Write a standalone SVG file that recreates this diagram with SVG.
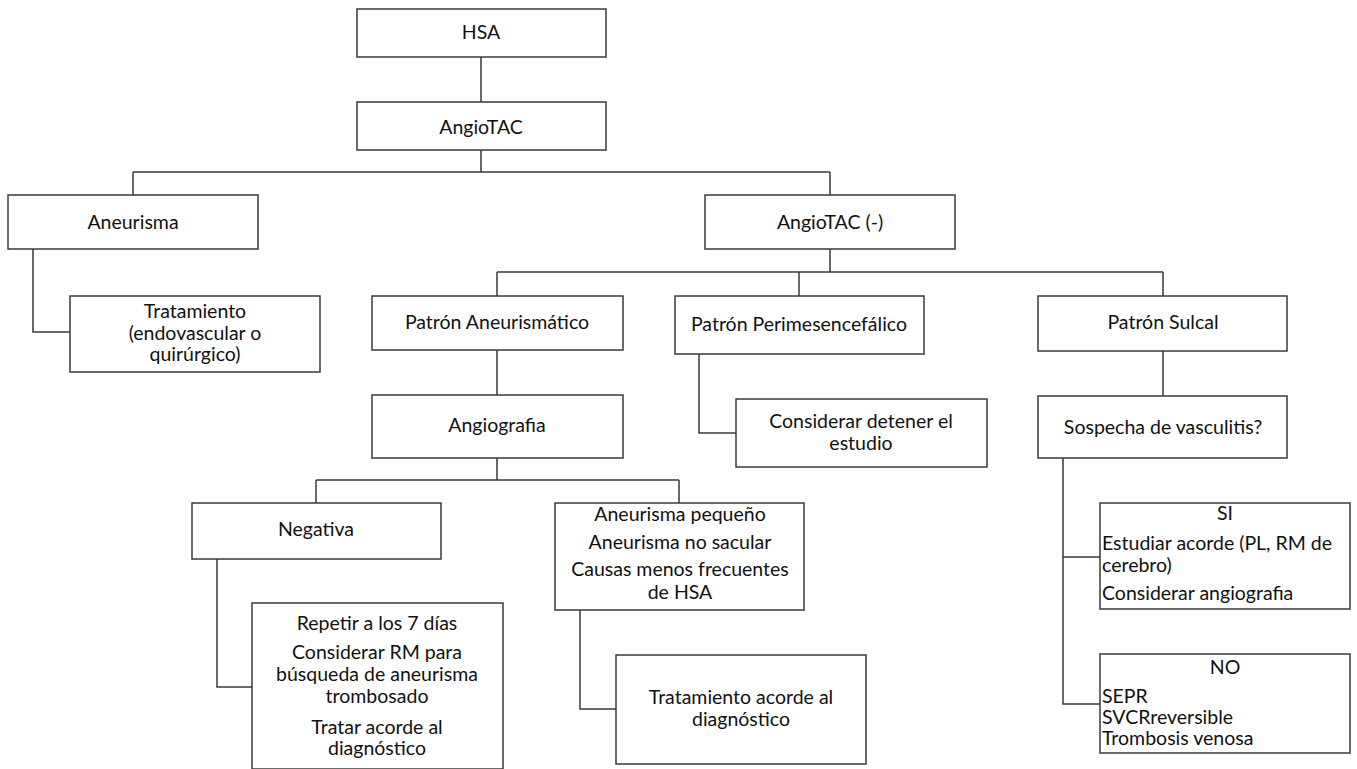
<svg xmlns="http://www.w3.org/2000/svg" width="1357" height="769" viewBox="0 0 1357 769">
<style>
rect{fill:#fff;stroke:#3a3a3a;stroke-width:1.5}
.c{fill:none;stroke:#3a3a3a;stroke-width:1.5}
text{font-family:Lato,"Liberation Sans",sans-serif;font-size:19.5px;fill:#111;text-anchor:middle}
.l{text-anchor:start}
</style>
<rect x="0" y="0" width="1357" height="769" style="stroke:none"/>
<g id="connectors">
<path class="c" d="M481 57V102M481 150V172M133 172H830M133 172V195M830 172V195"/>
<path class="c" d="M33 249V332H70"/>
<path class="c" d="M830 249V272M497 272H1163M497 272V296M799 272V296M1163 272V296"/>
<path class="c" d="M699 354V433H736"/>
<path class="c" d="M1163 351V396"/>
<path class="c" d="M497 350V395M497 458V480M316 480H679M316 480V503M679 480V503"/>
<path class="c" d="M217 559V687H252"/>
<path class="c" d="M580 610V709H616"/>
<path class="c" d="M1063 458V704H1100M1063 557H1100"/>
</g>
<g id="hsa"><rect x="357" y="9" width="249" height="48"/><text x="481" y="39">HSA</text></g>
<g id="angiotac"><rect x="357" y="102" width="249" height="48"/><text x="481" y="134">AngioTAC</text></g>
<g id="aneurisma"><rect x="8" y="195" width="250" height="54"/><text x="133" y="229">Aneurisma</text></g>
<g id="angiotac-neg"><rect x="705" y="195" width="250" height="54"/><text x="830" y="229">AngioTAC (-)</text></g>
<g id="tratamiento"><rect x="70" y="296" width="250" height="76"/><text x="195" y="318">Tratamiento</text><text x="195" y="339.5">(endovascular o</text><text x="195" y="361">quirúrgico)</text></g>
<g id="patron-aneurismatico"><rect x="372" y="296" width="251" height="54"/><text x="497" y="329">Patrón Aneurismático</text></g>
<g id="patron-perimesencefalico"><rect x="675" y="296" width="249" height="58"/><text x="799" y="331">Patrón Perimesencefálico</text></g>
<g id="patron-sulcal"><rect x="1038" y="296" width="249" height="55"/><text x="1163" y="329">Patrón Sulcal</text></g>
<g id="considerar-detener"><rect x="736" y="399" width="251" height="68"/><text x="861" y="428">Considerar detener el</text><text x="861" y="450">estudio</text></g>
<g id="angiografia"><rect x="372" y="395" width="251" height="63"/><text x="497" y="432">Angiografia</text></g>
<g id="sospecha"><rect x="1038" y="396" width="249" height="62"/><text x="1163" y="434">Sospecha de vasculitis?</text></g>
<g id="negativa"><rect x="192" y="503" width="249" height="56"/><text x="316" y="536">Negativa</text></g>
<g id="aneurisma-pequeno"><rect x="555" y="503" width="249" height="107"/><text x="680" y="521">Aneurisma pequeño</text><text x="680" y="549">Aneurisma no sacular</text><text x="680" y="576">Causas menos frecuentes</text><text x="680" y="599">de HSA</text></g>
<g id="repetir"><rect x="252" y="603" width="251" height="166"/><text x="377" y="630">Repetir a los 7 días</text><text x="377" y="659">Considerar RM para</text><text x="377" y="681">búsqueda de aneurisma</text><text x="377" y="703">trombosado</text><text x="377" y="734">Tratar acorde al</text><text x="377" y="755">diagnóstico</text></g>
<g id="tratamiento-acorde"><rect x="616" y="655" width="250" height="109"/><text x="741" y="704">Tratamiento acorde al</text><text x="741" y="726">diagnóstico</text></g>
<g id="si"><rect x="1100" y="503" width="250" height="106"/><text x="1225" y="520">SI</text><text class="l" x="1102" y="550">Estudiar acorde (PL, RM de</text><text class="l" x="1102" y="572">cerebro)</text><text class="l" x="1102" y="600">Considerar angiografia</text></g>
<g id="no"><rect x="1100" y="654" width="250" height="99"/><text x="1225" y="674">NO</text><text class="l" x="1102" y="703">SEPR</text><text class="l" x="1102" y="724">SVCRreversible</text><text class="l" x="1102" y="745">Trombosis venosa</text></g>
</svg>
